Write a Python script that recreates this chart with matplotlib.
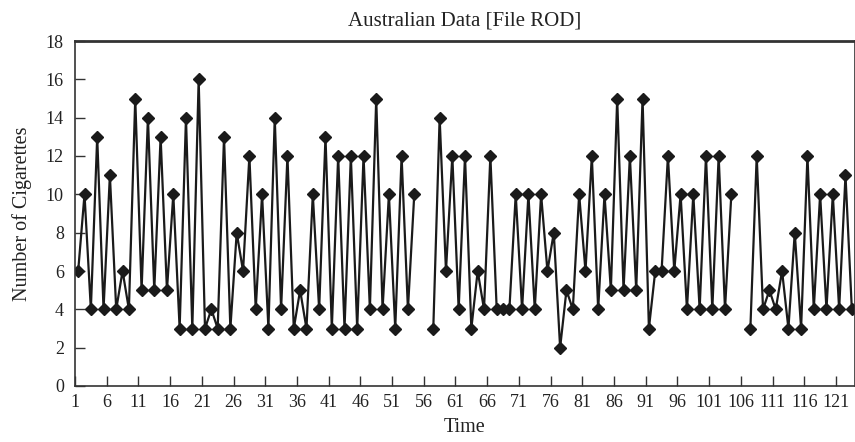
import numpy as np
import matplotlib
matplotlib.use("Agg")
import matplotlib.pyplot as plt

nan = np.nan

# Time index and number of cigarettes (gaps = missing observations)
time = list(range(1, 124))
cigarettes = [
    6, 10, 4, 13, 4, 11, 4, 6, 4, 15,
    5, 14, 5, 13, 5, 10, 3, 14, 3, 16,
    3, 4, 3, 13, 3, 8, 6, 12, 4, 10,
    3, 14, 4, 12, 3, 5, 3, 10, 4, 13,
    3, 12, 3, 12, 3, 12, 4, 15, 4, 10,
    3, 12, 4, 10, nan, nan, 3, 14, 6, 12,
    4, 12, 3, 6, 4, 12, 4, 4, 4, 10,
    4, 10, 4, 10, 6, 8, 2, 5, 4, 10,
    6, 12, 4, 10, 5, 15, 5, 12, 5, 15,
    3, 6, 6, 12, 6, 10, 4, 10, 4, 12,
    4, 12, 4, 10, nan, nan, 3, 12, 4, 5,
    4, 6, 3, 8, 3, 12, 4, 10, 4, 10,
    4, 11, 4,
]
tick_labels = [str(t) for t in range(1, 122, 5)]
y_ticks = list(range(0, 19, 2))

plt.rcParams['font.family'] = ['Liberation Serif', 'DejaVu Serif']

fig = plt.figure(figsize=(8.55, 4.42), dpi=100)
ax = fig.add_axes([75 / 855, 1 - 386 / 442, 780 / 855, 345 / 442])

ax.plot(time, cigarettes, color='#1a1a1a', linewidth=1.6,
        marker='D', markersize=6, markerfacecolor='#1a1a1a',
        markeredgecolor='#1a1a1a', clip_on=True)

# category-style axis: ticks on category boundaries, labels under them
ax.set_xlim(0.5, len(time) + 0.5)
ax.set_xticks([t - 0.5 for t in range(1, 122, 5)])
ax.set_xticklabels(tick_labels)
ax.set_ylim(0, 18)
ax.set_yticks(y_ticks)

ax.tick_params(axis='both', direction='in', length=7, width=1.0,
               color='#333333', labelsize=13, labelcolor='#222222')
ax.tick_params(axis='x', pad=6)
ax.tick_params(axis='y', pad=8)
for side in ax.spines.values():
    side.set_color('#333333')
    side.set_linewidth(1.2)
ax.spines['top'].set_linewidth(2.0)

ax.set_title('Australian Data [File ROD]', fontsize=15, color='#222222', pad=11)
ax.set_xlabel('Time', fontsize=14.5, color='#222222', labelpad=5)
ax.set_ylabel('Number of Cigarettes', fontsize=14.5, color='#222222', labelpad=10)

fig.savefig('out.png', dpi=100)
